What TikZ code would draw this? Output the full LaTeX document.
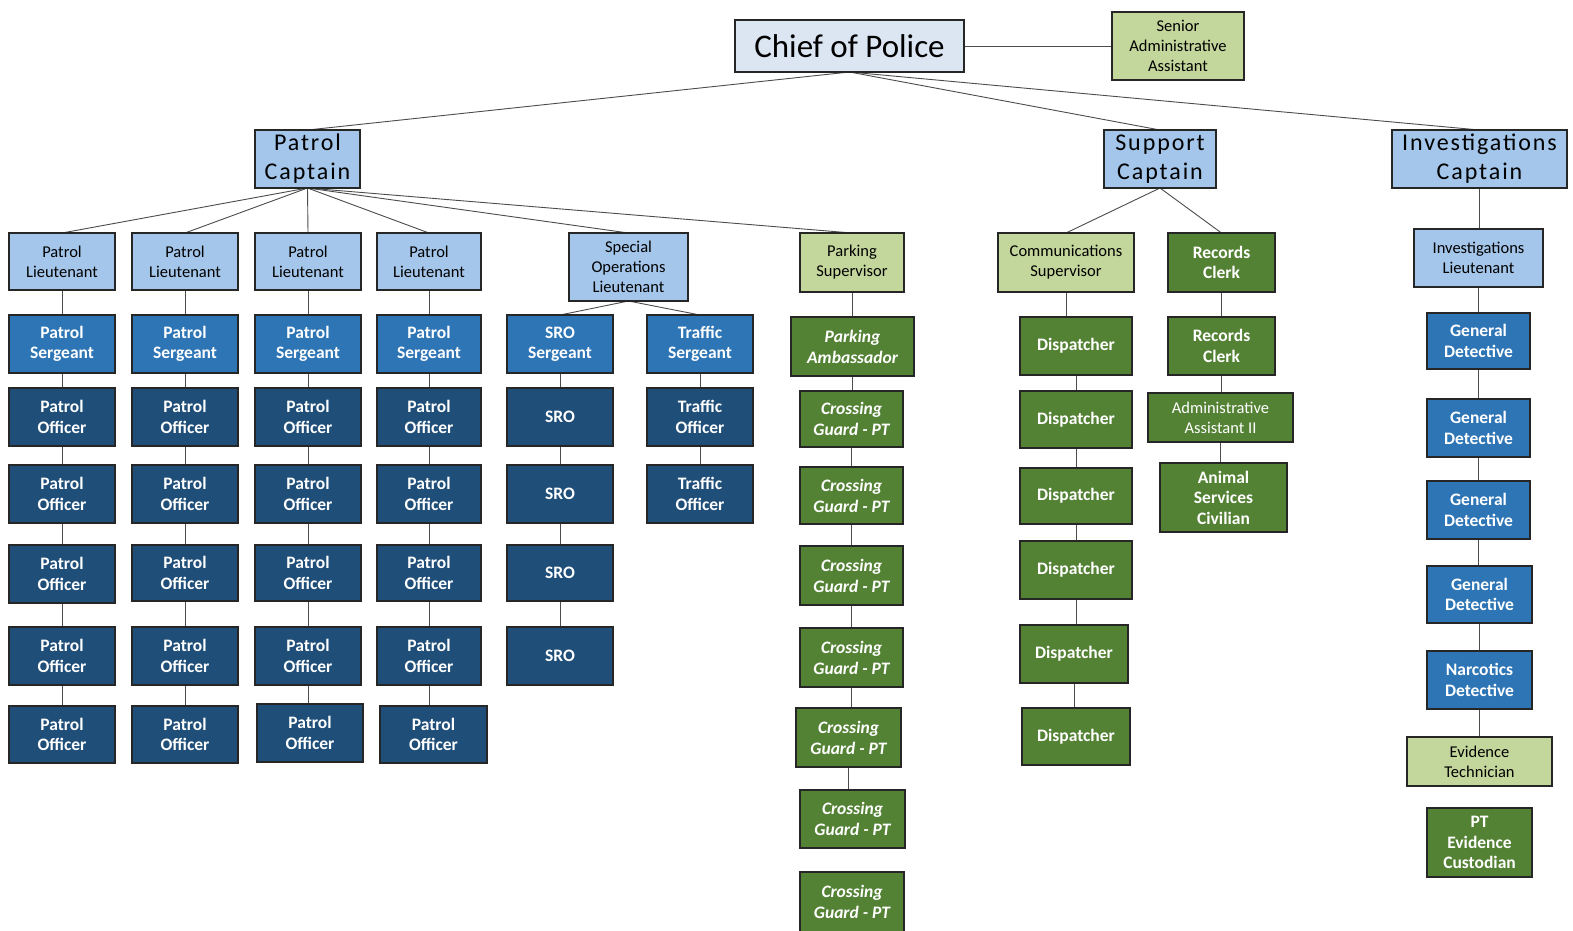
\documentclass[tikz,border=0pt]{standalone}
\usepackage{fontspec}
\setmainfont{Carlito}
\newfontfamily\capfont[LetterSpace=8]{Carlito}
\usetikzlibrary{backgrounds}
\definecolor{chiefblue}{HTML}{DCE6F2}
\definecolor{ltblue}{HTML}{A4C6EA}
\definecolor{medblue}{HTML}{2E75B6}
\definecolor{dkblue}{HTML}{1F4E79}
\definecolor{ltgreen}{HTML}{C3D69B}
\definecolor{dkgreen}{HTML}{548235}
\newcommand\bx[7]{\node[#6, minimum width={(#4-#2)*1pt}, minimum height={(#5-#3)*1pt}] (#1) at ({(#2+#4)/2},{(#3+#5)/2}) {#7};}
\tikzset{
  base/.style={draw=black!85, line width=1.3pt, inner sep=0pt, outer sep=0pt, align=center, font=\fontsize{16.5}{20}\selectfont},
  chief/.style={base, fill=chiefblue, font=\fontsize{33}{36}\selectfont},
  capt/.style={base, fill=ltblue, font=\capfont\fontsize{24}{29}\selectfont},
  lb/.style={base, fill=ltblue},
  mb/.style={base, fill=medblue, text=white, font=\fontsize{17.5}{20.5}\selectfont\bfseries},
  db/.style={base, fill=dkblue, text=white, font=\fontsize{17.5}{20.5}\selectfont\bfseries},
  lg/.style={base, fill=ltgreen},
  dg/.style={base, fill=dkgreen, text=white, font=\fontsize{17.5}{20.5}\selectfont\bfseries},
  dgi/.style={base, fill=dkgreen, text=white, font=\fontsize{17.5}{21}\selectfont\bfseries\itshape},
  conn/.style={draw=black!70, line width=0.9pt}
}
\begin{document}
\begin{tikzpicture}[x=1pt,y=-1pt]
\useasboundingbox (0,0) rectangle (1573,930);
% top
\bx{chief}{735}{20}{964}{72}{chief}{Chief of Police}
\bx{saa}{1112}{12}{1244}{80}{lg}{Senior\\Administrative\\Assistant}
\bx{pc}{255}{130}{360}{188}{capt}{Patrol\\Captain}
\bx{sc}{1104}{130}{1216}{188}{capt}{Support\\Captain}
\bx{ic}{1392}{130}{1567}{188}{capt}{Investigations\\Captain}
% patrol lieutenants
\bx{pl1}{9}{233}{115}{290}{lb}{Patrol\\Lieutenant}
\bx{pl2}{132}{233}{238}{290}{lb}{Patrol\\Lieutenant}
\bx{pl3}{255}{233}{361}{290}{lb}{Patrol\\Lieutenant}
\bx{pl4}{377}{233}{481}{290}{lb}{Patrol\\Lieutenant}
\bx{sol}{569}{233}{688}{301}{lb}{Special\\Operations\\Lieutenant}
\bx{psup}{800}{233}{904}{292}{lg}{Parking\\Supervisor}
% sergeants
\bx{ps1}{9}{315}{115}{373}{mb}{Patrol\\Sergeant}
\bx{ps2}{132}{315}{238}{373}{mb}{Patrol\\Sergeant}
\bx{ps3}{255}{315}{361}{373}{mb}{Patrol\\Sergeant}
\bx{ps4}{377}{315}{481}{373}{mb}{Patrol\\Sergeant}
\bx{sros}{507}{315}{613}{373}{mb}{SRO\\Sergeant}
\bx{trs}{647}{315}{753}{373}{mb}{Traffic\\Sergeant}
% patrol officers
\bx{po11}{9}{388}{115}{446}{db}{Patrol\\Officer}
\bx{po21}{132}{388}{238}{446}{db}{Patrol\\Officer}
\bx{po31}{255}{388}{361}{446}{db}{Patrol\\Officer}
\bx{po41}{377}{388}{481}{446}{db}{Patrol\\Officer}
\bx{po12}{9}{465}{115}{523}{db}{Patrol\\Officer}
\bx{po22}{132}{465}{238}{523}{db}{Patrol\\Officer}
\bx{po32}{255}{465}{361}{523}{db}{Patrol\\Officer}
\bx{po42}{377}{465}{481}{523}{db}{Patrol\\Officer}
\bx{po13}{9}{545}{115}{603}{db}{Patrol\\Officer}
\bx{po23}{132}{545}{238}{601}{db}{Patrol\\Officer}
\bx{po33}{255}{545}{361}{601}{db}{Patrol\\Officer}
\bx{po43}{377}{545}{481}{601}{db}{Patrol\\Officer}
\bx{po14}{9}{627}{115}{685}{db}{Patrol\\Officer}
\bx{po24}{132}{627}{238}{685}{db}{Patrol\\Officer}
\bx{po34}{255}{627}{361}{685}{db}{Patrol\\Officer}
\bx{po44}{377}{627}{481}{685}{db}{Patrol\\Officer}
\bx{po15}{9}{706}{115}{763}{db}{Patrol\\Officer}
\bx{po25}{132}{706}{238}{763}{db}{Patrol\\Officer}
\bx{po35}{257}{704}{363}{762}{db}{Patrol\\Officer}
\bx{po45}{380}{706}{487}{763}{db}{Patrol\\Officer}
% SRO and traffic
\bx{sro1}{507}{388}{613}{446}{db}{SRO}
\bx{sro2}{507}{465}{613}{523}{db}{SRO}
\bx{sro3}{507}{545}{613}{601}{db}{SRO}
\bx{sro4}{507}{627}{613}{685}{db}{SRO}
\bx{tro1}{647}{388}{753}{446}{db}{Traffic\\Officer}
\bx{tro2}{647}{465}{753}{523}{db}{Traffic\\Officer}
% parking
\bx{pamb}{791}{317}{914}{376}{dgi}{Parking\\Ambassador}
\bx{cg1}{800}{391}{903}{447}{dgi}{Crossing\\Guard - PT}
\bx{cg2}{800}{467}{903}{524}{dgi}{Crossing\\Guard - PT}
\bx{cg3}{800}{546}{903}{605}{dgi}{Crossing\\Guard - PT}
\bx{cg4}{800}{628}{903}{687}{dgi}{Crossing\\Guard - PT}
\bx{cg5}{796}{708}{901}{767}{dgi}{Crossing\\Guard - PT}
\bx{cg6}{800}{790}{905}{848}{dgi}{Crossing\\Guard - PT}
\bx{cg7}{800}{872}{904}{932}{dgi}{Crossing\\Guard - PT}
% support
\bx{csup}{998}{233}{1134}{292}{lg}{Communications\\Supervisor}
\bx{rc1}{1168}{233}{1275}{292}{dg}{Records\\Clerk}
\bx{d1}{1020}{317}{1132}{375}{dg}{Dispatcher}
\bx{d2}{1020}{391}{1132}{448}{dg}{Dispatcher}
\bx{d3}{1020}{468}{1132}{524}{dg}{Dispatcher}
\bx{d4}{1020}{541}{1132}{599}{dg}{Dispatcher}
\bx{d5}{1020}{625}{1128}{683}{dg}{Dispatcher}
\bx{d6}{1022}{708}{1130}{765}{dg}{Dispatcher}
\bx{rc2}{1168}{317}{1275}{375}{dg}{Records\\Clerk}
\bx{aa2}{1148}{393}{1293}{442}{base,fill=dkgreen,text=white}{Administrative\\Assistant II}
\bx{asc}{1160}{463}{1287}{532}{dg}{Animal\\Services\\Civilian}
% investigations
\bx{il}{1414}{229}{1543}{287}{lb}{Investigations\\Lieutenant}
\bx{gd1}{1427}{313}{1530}{369}{mb}{General\\Detective}
\bx{gd2}{1427}{399}{1530}{457}{mb}{General\\Detective}
\bx{gd3}{1427}{481}{1530}{539}{mb}{General\\Detective}
\bx{gd4}{1427}{566}{1532}{623}{mb}{General\\Detective}
\bx{nd}{1427}{651}{1532}{709}{mb}{Narcotics\\Detective}
\bx{et}{1407}{737}{1552}{786}{lg}{Evidence\\Technician}
\bx{pec}{1427}{808}{1532}{877}{dg}{PT\\Evidence\\Custodian}
\begin{scope}[on background layer]
\fill[white] (0,0) rectangle (1573,930);
\draw[conn] (chief.east) -- (saa.west |- chief.east);
\foreach \t in {pc,sc,ic} \draw[conn] (chief.south) -- (\t.north);
\foreach \t in {pl1,pl2,pl3,pl4,sol,psup} \draw[conn] (pc.south) -- (\t.north);
\foreach \t in {sros,trs} \draw[conn] (sol.south) -- (\t.north);
\foreach \t in {csup,rc1} \draw[conn] (sc.south) -- (\t.north);
\foreach \a/\b in {ic/il,
  pl1/ps1,ps1/po11,po11/po12,po12/po13,po13/po14,po14/po15,
  pl2/ps2,ps2/po21,po21/po22,po22/po23,po23/po24,po24/po25,
  pl3/ps3,ps3/po31,po31/po32,po32/po33,po33/po34,po34/po35,
  pl4/ps4,ps4/po41,po41/po42,po42/po43,po43/po44,po44/po45,
  sros/sro1,sro1/sro2,sro2/sro3,sro3/sro4,trs/tro1,tro1/tro2,
  psup/pamb,pamb/cg1,cg1/cg2,cg2/cg3,cg3/cg4,cg4/cg5,cg5/cg6,
  csup/d1,d1/d2,d2/d3,d3/d4,d4/d5,d5/d6,
  rc1/rc2,rc2/aa2,aa2/asc,
  il/gd1,gd1/gd2,gd2/gd3,gd3/gd4,gd4/nd,nd/et}
  \draw[conn] (\a.south) -- (\a.south |- \b.north);
\end{scope}
\end{tikzpicture}
\end{document}
